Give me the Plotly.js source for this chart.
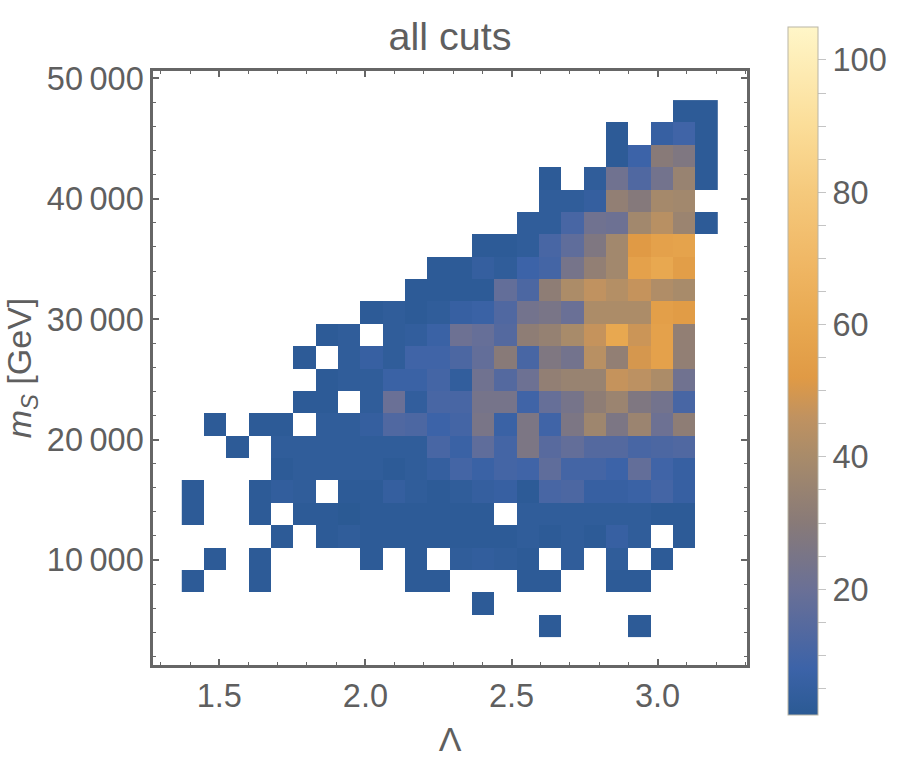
<!DOCTYPE html>
<html>
<head>
<meta charset="utf-8">
<script src="https://cdn.plot.ly/plotly-3.0.1.min.js"></script>
<style>html,body{margin:0;padding:0;background:#fff}</style>
</head>
<body>
<div id="chart" style="width:899px;height:772px"></div>
<script>
"use strict";

const lambdaBins = [1.410, 1.487, 1.563, 1.639, 1.716, 1.792, 1.869, 1.945, 2.021, 2.098, 2.174, 2.251,
    2.327, 2.403, 2.480, 2.556, 2.633, 2.709, 2.785, 2.862, 2.938, 3.015, 3.091, 3.167];
const massBins = [47270, 45413, 43556, 41699, 39842, 37985, 36128, 34271, 32414, 30557, 28700, 26843,
    24986, 23129, 21272, 19415, 17558, 15701, 13844, 11987, 10130, 8273, 6416, 4559];

// counts per cell, one list per row, top row of the picture first (null = empty cell)
const _ = null;
const row00 = [_, _, _, _, _, _, _, _, _, _, _, _, _, _, _, _, _, _, _, _, _, _, 2, 2];
const row01 = [_, _, _, _, _, _, _, _, _, _, _, _, _, _, _, _, _, _, _, 2, _, 6, 9, 2];
const row02 = [_, _, _, _, _, _, _, _, _, _, _, _, _, _, _, _, _, _, _, 2, 8, 30, 27, 2];
const row03 = [_, _, _, _, _, _, _, _, _, _, _, _, _, _, _, _, 2, _, 3, 22, 13, 23, 35, 2];
const row04 = [_, _, _, _, _, _, _, _, _, _, _, _, _, _, _, _, 3, 3, 5, 33, 29, 39, 38, _];
const row05 = [_, _, _, _, _, _, _, _, _, _, _, _, _, _, _, 3, 3, 11, 22, 21, 38, 44, 36, 2];
const row06 = [_, _, _, _, _, _, _, _, _, _, _, _, _, 2, 2, 3, 11, 17, 27, 38, 52, 56, 57, _];
const row07 = [_, _, _, _, _, _, _, _, _, _, _, 2, 2, 5, 3, 8, 10, 24, 33, 38, 56, 60, 54, _];
const row08 = [_, _, _, _, _, _, _, _, _, _, 2, 2, 2, 2, 18, 12, 32, 41, 46, 43, 47, 42, 40, _];
const row09 = [_, _, _, _, _, _, _, _, 2, 3, 2, 3, 6, 7, 13, 23, 25, 20, 41, 41, 41, 55, 53, _];
const row10 = [_, _, _, _, _, _, 2, 3, _, 3, 4, 7, 21, 19, 14, 32, 34, 40, 47, 60, 48, 56, 33, _];
const row11 = [_, _, _, _, _, 2, _, 3, 6, 3, 9, 9, 12, 18, 30, 11, 27, 23, 44, 33, 50, 56, 33, _];
const row12 = [_, _, _, _, _, _, 2, 3, 3, 7, 7, 10, 4, 22, 14, 21, 33, 35, 35, 47, 45, 41, 22, _];
const row13 = [_, _, _, _, _, 2, 2, _, 3, 20, 4, 11, 11, 24, 24, 9, 19, 24, 32, 36, 27, 23, 11, _];
const row14 = [_, 2, _, 2, 2, _, 3, 3, 5, 13, 12, 8, 10, 25, 7, 26, 9, 26, 37, 26, 36, 21, 32, _];
const row15 = [_, _, 2, _, 3, 3, 3, 3, 3, 3, 3, 11, 7, 17, 10, 26, 15, 18, 14, 14, 11, 12, 13, _];
const row16 = [_, _, _, _, 2, 3, 3, 3, 3, 2, 3, 5, 10, 7, 10, 9, 17, 10, 10, 8, 18, 9, 6, _];
const row17 = [2, _, _, 2, 4, 3, _, 2, 2, 5, 3, 2, 3, 5, 6, 2, 11, 12, 6, 6, 7, 10, 6, _];
const row18 = [2, _, _, 2, _, 2, 2, 1, 2, 2, 2, 2, 2, 2, _, 3, 3, 3, 3, 3, 3, 2, 2, _];
const row19 = [_, _, _, _, 2, _, 2, 3, 2, 2, 2, 2, 2, 2, 2, 3, 2, 3, 2, 6, 3, _, 2, _];
const row20 = [_, 2, _, 2, _, _, _, _, 2, _, 2, _, 3, 4, 3, 2, _, 3, _, 3, _, 2, _, _];
const row21 = [2, _, _, 2, _, _, _, _, _, _, 2, 2, _, _, _, 2, 2, _, _, 2, 2, _, _, _];
const row22 = [_, _, _, _, _, _, _, _, _, _, _, _, _, 2, _, _, _, _, _, _, _, _, _, _];
const row23 = [_, _, _, _, _, _, _, _, _, _, _, _, _, _, _, _, 2, _, _, _, 2, _, _, _];

const xTickVals = [1.5, 2.0, 2.5, 3.0];
const xTickText = ["1.5", "2.0", "2.5", "3.0"];
const yTickVals = [10000, 20000, 30000, 40000, 50000];
const yTickText = ["10\u2009000", "20\u2009000", "30\u2009000", "40\u2009000", "50\u2009000"];
const barTickVals = [5, 10, 15, 20, 25, 30, 35, 40, 45, 50, 55, 60, 65, 70, 75, 80, 85, 90, 95, 100];
const barTickText = ["", "", "", "20", "", "", "", "40", "", "", "", "60", "", "", "", "80", "", "", "", "100"];

const zMin = 1;
const zMax = 105;
const colorStops = [[1, "#2b5a94"], [8, "#3c63a8"], [14, "#54699f"], [20, "#6a7096"], [30, "#887a78"],
    [40, "#a88b6a"], [46, "#c09260"], [52, "#e09a45"], [60, "#e8a850"], [70, "#f0b866"], [80, "#f5c97c"],
    [90, "#fbdd98"], [105, "#fff6c8"]];

const textColor = "#5f5f5f";
const frameColor = "#666666";
const fontFamily = "Liberation Sans, Arial, sans-serif";
const labelFont = {family: fontFamily, size: 32.5, color: textColor};

const counts = [row00, row01, row02, row03, row04, row05, row06, row07, row08, row09, row10, row11,
    row12, row13, row14, row15, row16, row17, row18, row19, row20, row21, row22, row23];

const trace = {
    type: "heatmap",
    x: lambdaBins,
    y: massBins,
    z: counts,
    zmin: zMin,
    zmax: zMax,
    zsmooth: false,
    hoverongaps: false,
    colorscale: colorStops.map(function (stop) {
        return [(stop[0] - zMin) / (zMax - zMin), stop[1]];
    }),
    colorbar: {
        thicknessmode: "pixels",
        thickness: 30,
        lenmode: "pixels",
        len: 688,
        x: 1.067,
        xanchor: "left",
        xpad: 0,
        y: -0.084,
        yanchor: "bottom",
        ypad: 0,
        outlinewidth: 1,
        outlinecolor: "#b9b5a6",
        tickmode: "array",
        tickvals: barTickVals,
        ticktext: barTickText,
        ticks: "outside",
        ticklen: 8,
        tickwidth: 1,
        tickcolor: "#c4c4c4",
        tickfont: labelFont
    }
};

const layout = {
    width: 899,
    height: 772,
    margin: {l: 153, r: 151, t: 71, b: 107, pad: 0},
    paper_bgcolor: "#ffffff",
    plot_bgcolor: "#ffffff",
    font: labelFont,
    title: {
        text: "all cuts",
        x: 450 / 899,
        xref: "container",
        xanchor: "center",
        y: 1 - 36 / 772,
        yref: "container",
        yanchor: "middle",
        font: {family: fontFamily, size: 39.5, color: textColor}
    },
    xaxis: {
        range: [1.273, 3.306],
        tickmode: "array",
        tickvals: xTickVals,
        ticktext: xTickText,
        ticks: "inside",
        ticklen: 6,
        tickwidth: 1.5,
        tickcolor: frameColor,
        showgrid: false,
        zeroline: false,
        showline: true,
        linewidth: 2.5,
        linecolor: frameColor,
        mirror: "ticks",
        minor: {ticks: "inside", dtick: 0.1, ticklen: 3, tickwidth: 1, tickcolor: frameColor, showgrid: false},
        title: {text: "Λ", standoff: 15, font: {family: fontFamily, size: 34, color: textColor}}
    },
    yaxis: {
        range: [1279, 50615],
        tickmode: "array",
        tickvals: yTickVals,
        ticktext: yTickText,
        ticks: "inside",
        ticklen: 6,
        tickwidth: 1.5,
        tickcolor: frameColor,
        showgrid: false,
        zeroline: false,
        showline: true,
        linewidth: 2.5,
        linecolor: frameColor,
        mirror: "ticks",
        minor: {ticks: "inside", dtick: 2000, ticklen: 3, tickwidth: 1, tickcolor: frameColor, showgrid: false},
        title: {text: "<i>m</i><sub><i>S</i></sub> [GeV]", standoff: 6, font: {family: fontFamily, size: 34, color: textColor}}
    }
};

Plotly.newPlot("chart", [trace], layout, {displayModeBar: false, responsive: false});
</script>
</body>
</html>
